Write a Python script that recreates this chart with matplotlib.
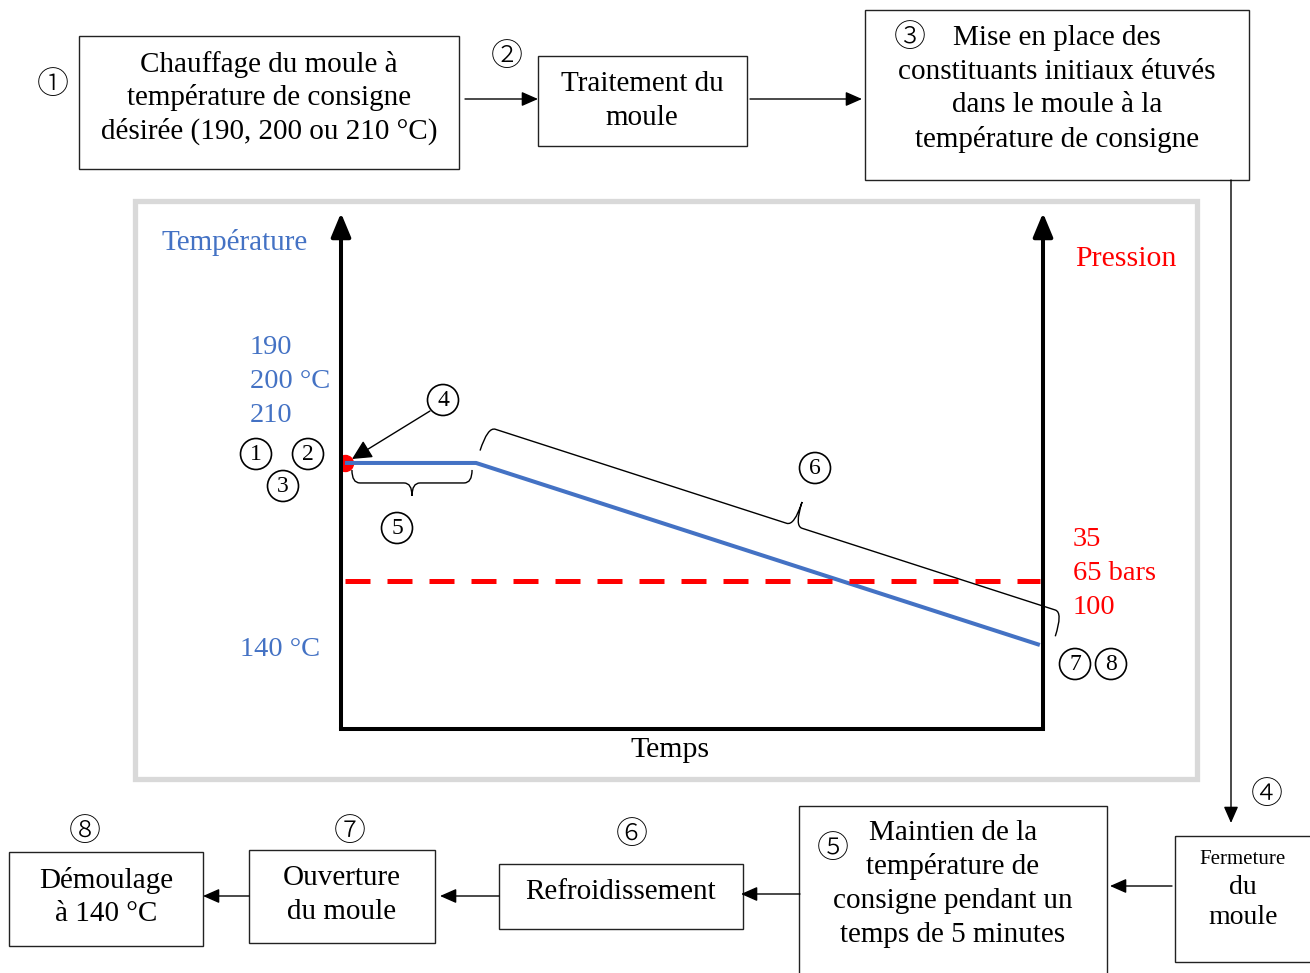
import numpy as np
import matplotlib
matplotlib.use("Agg")
import matplotlib.pyplot as plt
from matplotlib.patches import Rectangle, Circle, PathPatch
from matplotlib.path import Path

plt.rcParams["font.family"] = ["Liberation Serif", "Noto Sans CJK JP", "DejaVu Sans"]

# process curve (time in minutes)
time_min = [0, 5, 26.5]
temperature_c = [200, 200, 140]
pressure_time = [0, 26.5]
pressure_bar = [65, 65]

temp_setpoints = ["190", "200 °C", "210"]
pressure_setpoints = ["35", "65 bars", "100"]

BLUE = "#4472C4"
RED = "#FF0000"
CIRCLED = "①②③④⑤⑥⑦⑧"

fig = plt.figure(figsize=(13.1, 9.73), dpi=100)
bg = fig.add_axes([0, 0, 1, 1])
bg.set_xlim(0, 1310)
bg.set_ylim(973, 0)
bg.axis("off")


def box(x0, y0, x1, y1):
    bg.add_patch(Rectangle((x0, y0), x1 - x0, y1 - y0, fill=False, lw=1.0, ec="#222222"))


def arrow(x0, y0, x1, y1):
    bg.annotate("", xy=(x1, y1), xytext=(x0, y0),
                arrowprops=dict(arrowstyle="-|>,head_length=0.5,head_width=0.22",
                                lw=1.0, color="k", shrinkA=0, shrinkB=0, mutation_scale=20))


def label(x, y, s, size=21, color="k", ha="center"):
    bg.text(x, y, s, fontsize=size, color=color, ha=ha, va="center")


def lines(x, y0, text, dy=33.7, size=21):
    for i, s in enumerate(text.split("\n")):
        label(x, y0 + i * dy, s, size=size)


def step_num(x, y, n, size=23):
    bg.text(x, y, CIRCLED[n - 1], fontsize=size, ha="center", va="center",
            family=["Noto Sans CJK JP", "DejaVu Sans"], fontweight="light")


def chart_num(x, y, n):
    bg.add_patch(Circle((x, y), 15.5, fill=False, lw=1.2, ec="k"))
    bg.text(x, y + 1, str(n), fontsize=17, ha="center", va="center")


# ---- flow chart: top row
box(79, 36, 459, 169)
lines(269, 64, "Chauffage du moule à\ntempérature de consigne\ndésirée (190, 200 ou 210 °C)")
step_num(53, 85, 1)
arrow(465, 99, 538, 99)
step_num(507, 57, 2)
box(538, 56, 747, 146)
lines(642, 84, "Traitement du\nmoule")
arrow(750, 99, 862, 99)
box(865, 10, 1249, 180)
step_num(910, 38, 3)
lines(1057, 38, "Mise en place des\nconstituants initiaux étuvés\ndans le moule à la\ntempérature de consigne")
arrow(1231, 180, 1231, 823)
step_num(1267, 795, 4)

# ---- flow chart: bottom row
box(1175, 836, 1318, 962)
label(1243, 859, "Fermeture", size=15)
lines(1243, 887, "du\nmoule", dy=30, size=20)
arrow(1172, 886, 1110, 886)
box(799, 806, 1107, 990)
step_num(833, 849, 5)
lines(953, 833, "Maintien de la\ntempérature de\nconsigne pendant un\ntemps de 5 minutes", dy=34)
arrow(800, 894, 741, 894)
box(499, 864, 743, 929)
label(621, 892, "Refroidissement")
step_num(632, 835, 6)
arrow(499, 896, 440, 896)
box(249, 850, 435, 943)
lines(342, 878, "Ouverture\ndu moule")
step_num(350, 832, 7)
arrow(249, 896, 203, 896)
box(9, 852, 203, 946)
lines(106, 880, "Démoulage\nà 140 °C")
step_num(85, 832, 8)

# ---- grey frame around the process chart
bg.add_patch(Rectangle((135, 201), 1062, 578, fill=False, lw=3.8, ec="#d9d9d9"))

# ---- process chart
W, H = 1310, 973
ax = fig.add_axes([341 / W, 1 - 729 / H, 702 / W, 516 / H])
ax.patch.set_alpha(0)
ax.set_xlim(-0.15, 26.62)
ax.set_ylim(112.3, 282.4)
for side in ("left", "right", "top"):
    ax.spines[side].set_visible(False)
ax.spines["bottom"].set_linewidth(2.9)
ax.set_xticks([])
ax.set_yticks([])
for xf in (0, 1):
    ax.annotate("", xy=(xf, 1), xytext=(xf, 0), xycoords="axes fraction",
                arrowprops=dict(arrowstyle="-|>,head_length=0.72,head_width=0.3",
                                lw=2.9, color="k", shrinkA=0, shrinkB=0, mutation_scale=20),
                zorder=5)

ax.plot(time_min[:1], temperature_c[:1], "o", color=RED, ms=11.5, zorder=2)
ax.plot(time_min, temperature_c, color=BLUE, lw=2.9, solid_capstyle="butt", zorder=3)

ax2 = ax.twinx()
ax2.patch.set_alpha(0)
ax2.set_ylim(0, 226.6)
ax2.axis("off")
ax2.plot(pressure_time, pressure_bar, color=RED, lw=3.6, dashes=(5, 3.4))


def to_px(t, T):
    return bg.transData.inverted().transform(ax.transData.transform((t, T)))


def brace(p0, p1, n, h, shift=0.0):
    p0, p1, n = np.asarray(p0, float), np.asarray(p1, float), np.asarray(n, float)
    u = (p1 - p0) / np.linalg.norm(p1 - p0)
    m = (p0 + p1) / 2 + u * shift
    r = 8
    verts = [p0, p0 + n * h, p0 + n * h + u * r,
             m + n * h - u * r, m + n * h, m + n * 2 * h,
             m + n * h, m + n * h + u * r,
             p1 + n * h - u * r, p1 + n * h, p1]
    codes = [Path.MOVETO, Path.CURVE3, Path.CURVE3,
             Path.LINETO, Path.CURVE3, Path.CURVE3,
             Path.CURVE3, Path.CURVE3,
             Path.LINETO, Path.CURVE3, Path.CURVE3]
    bg.add_patch(PathPatch(Path(verts, codes), fill=False, lw=1.0, ec="k", zorder=4))


# hold brace (5)
a = to_px(time_min[0], temperature_c[0])
b = to_px(time_min[1], temperature_c[1])
brace(a + [7, 7], b + [-4, 7], (0, 1), 13)

# cooling brace (6)
a = to_px(time_min[1], temperature_c[1])
b = to_px(time_min[2], temperature_c[2])
u = (b - a) / np.linalg.norm(b - a)
nrm = np.array([u[1], -u[0]])
brace(a + nrm * 13, b + nrm * 13 + u * 12, nrm, 25, shift=20)

# arrow (4) to the closing point
bg.annotate("", xy=(352, 459), xytext=(430, 411),
            arrowprops=dict(arrowstyle="-|>,head_length=0.6,head_width=0.3",
                            lw=1.0, color="k", shrinkA=0, shrinkB=0, mutation_scale=20))

for (x, y), n in zip([(256, 454), (308, 454), (283, 486), (443, 400),
                      (397, 528), (815, 468), (1075, 664), (1111, 664)],
                     [1, 2, 3, 4, 5, 6, 7, 8]):
    chart_num(x, y, n)

# chart labels
label(235, 243, "Température", size=21, color=BLUE)
label(1126, 259, "Pression", size=21.5, color=RED)
for i, s in enumerate(temp_setpoints):
    label(250, 347 + i * 34.5, s, size=20.5, color=BLUE, ha="left")
label(240, 649, "140 °C", size=20.5, color=BLUE, ha="left")
for i, s in enumerate(pressure_setpoints):
    label(1073, 540 + i * 33.5, s, size=20.5, color=RED, ha="left")
label(670, 750, "Temps", size=21.5)

fig.savefig("out.png", dpi=100)
